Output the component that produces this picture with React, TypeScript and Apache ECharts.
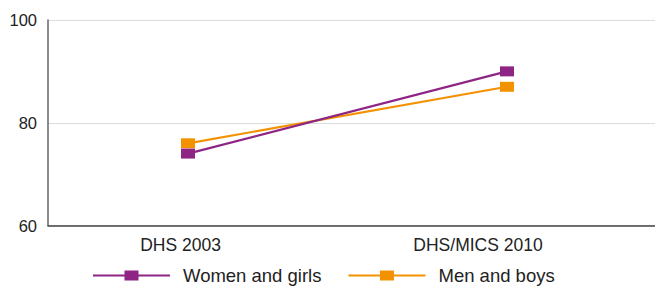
import React, { useEffect, useRef } from "react";
import * as echarts from "echarts";

const categories = ["DHS 2003", "DHS/MICS 2010"];
const womenAndGirls = [74, 90];
const menAndBoys = [76, 87];
const yTicks = [60, 80, 100];

export default function App() {
  const ref = useRef<HTMLDivElement>(null);
  useEffect(() => {
    if (!ref.current) return;
    const chart = echarts.init(ref.current, null, { renderer: "svg" });
    const font = "'Liberation Sans', Arial, Helvetica, sans-serif";
    const legendIcon = "path://M0,3.9H77V6.1H0Z M31.5,0H45.5V10H31.5Z";
    const mk = (name: string, values: number[], color: string) => ({
      name,
      type: "line",
      data: values.map((v, i) => [i, v]),
      symbol: "rect",
      symbolSize: [14, 10],
      color,
      lineStyle: { color, width: 2.2 },
      itemStyle: { color },
      z: name === "Women and girls" ? 3 : 2,
    });
    chart.setOption({
      animation: false,
      textStyle: { fontFamily: font },
      grid: { left: 48, right: 0, top: 20, bottom: 60.5, containLabel: false },
      xAxis: {
        type: "value",
        min: -0.4389,
        max: 1.4639,
        axisLine: { show: true, onZero: false, lineStyle: { color: "#444", width: 1.5 } },
        axisTick: { show: false },
        splitLine: { show: false },
        axisLabel: {
          customValues: categories.map((_, i) => i),
          formatter: (v: number) => {
            const i = Math.round(v);
            return `{c${i}|${categories[i] ?? ""}}`;
          },
          rich: {
            c0: { fontSize: 17.5, color: "#222", fontFamily: font, padding: [0, 15, 0, 0] },
            c1: { fontSize: 17.5, color: "#222", fontFamily: font, padding: [0, 58, 0, 0] },
          },
          fontSize: 17.5,
          color: "#222",
          margin: 10,
          fontFamily: font,
        },
      },
      yAxis: {
        type: "value",
        min: yTicks[0],
        max: yTicks[yTicks.length - 1],
        interval: 20,
        axisLine: { show: true, onZero: false, lineStyle: { color: "#666", width: 1.5 } },
        axisTick: { show: false },
        splitLine: { show: true, lineStyle: { color: "#dcdcdc", width: 1 } },
        axisLabel: { fontSize: 16.5, color: "#222", margin: 11, fontFamily: font },
      },
      legend: {
        left: 88,
        top: 261,
        itemWidth: 77,
        itemHeight: 10,
        itemGap: 27,
        textStyle: { fontSize: 18.5, color: "#222", padding: [0, 0, 0, 8], fontFamily: font },
        data: [
          { name: "Women and girls", icon: legendIcon },
          { name: "Men and boys", icon: legendIcon },
        ],
      },
      series: [
        mk("Women and girls", womenAndGirls, "#8e2585"),
        mk("Men and boys", menAndBoys, "#f39200"),
      ],
    });
    return () => chart.dispose();
  }, []);
  return <div ref={ref} style={{ width: 655, height: 286, position: "absolute", left: 0, top: 0 }} />;
}
